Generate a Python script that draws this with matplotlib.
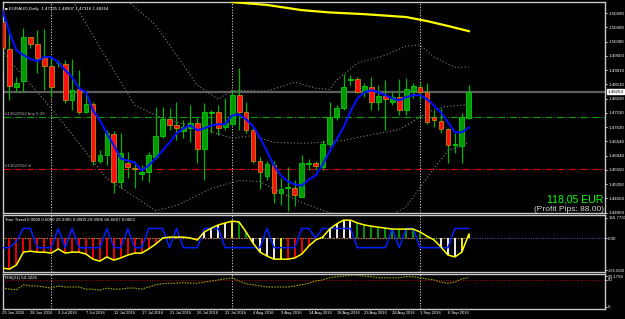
import numpy as np
import matplotlib
matplotlib.use("Agg")
import matplotlib.pyplot as plt
from matplotlib.transforms import blended_transform_factory

plt.rcParams['font.family'] = ['Liberation Sans', 'DejaVu Sans']

W, H = 625, 319

# EURAUD daily, 23 Jun 2016 .. 9 Sep 2016
opens = [1.5068, 1.4974, 1.4841, 1.4862, 1.5015, 1.4991, 1.4942, 1.4915, 1.4925, 1.4922,
         1.4796, 1.4835, 1.4754, 1.4782, 1.4587, 1.4608, 1.4678, 1.4511, 1.4580, 1.4560,
         1.4542, 1.4546, 1.4601, 1.4671, 1.4730, 1.4709, 1.4688, 1.4699, 1.4716, 1.4626,
         1.4753, 1.4754, 1.4702, 1.4713, 1.4814, 1.4754, 1.4692, 1.4584, 1.4535, 1.4570,
         1.4473, 1.4492, 1.4493, 1.4462, 1.4574, 1.4580, 1.4563, 1.4643, 1.4737, 1.4768,
         1.4868, 1.4869, 1.4824, 1.4841, 1.4789, 1.4810, 1.4789, 1.4807, 1.4761, 1.4828,
         1.4841, 1.4824, 1.4737, 1.4723, 1.4695, 1.4640, 1.4636, 1.47335]
highs = [1.5102, 1.5040, 1.4876, 1.5047, 1.5015, 1.5040, 1.5043, 1.4946, 1.4936, 1.4935,
         1.4939, 1.4901, 1.4831, 1.4789, 1.4622, 1.4692, 1.4688, 1.4681, 1.4615, 1.4587,
         1.4570, 1.4615, 1.4772, 1.4772, 1.4768, 1.4789, 1.4727, 1.4779, 1.4737, 1.4786,
         1.4761, 1.4779, 1.4803, 1.4831, 1.4908, 1.4789, 1.4699, 1.4598, 1.4587, 1.4587,
         1.4528, 1.4563, 1.4518, 1.4605, 1.4594, 1.4587, 1.4657, 1.4789, 1.4779, 1.4887,
         1.4883, 1.4876, 1.4855, 1.4876, 1.4848, 1.4866, 1.4824, 1.4869, 1.4873, 1.4855,
         1.4855, 1.4855, 1.4761, 1.4768, 1.4699, 1.4681, 1.4751, 1.48507]
lows = [1.4894, 1.4796, 1.4824, 1.4824, 1.4977, 1.4890, 1.4831, 1.4807, 1.4911, 1.4786,
        1.4761, 1.4747, 1.4751, 1.4570, 1.4577, 1.4570, 1.4476, 1.4493, 1.4528, 1.4493,
        1.4518, 1.4511, 1.4594, 1.4664, 1.4692, 1.4657, 1.4664, 1.4650, 1.4580, 1.4518,
        1.4681, 1.4674, 1.4692, 1.4709, 1.4692, 1.4681, 1.4577, 1.4490, 1.4518, 1.4438,
        1.4434, 1.4413, 1.4431, 1.4459, 1.4553, 1.4553, 1.4553, 1.4633, 1.4727, 1.4761,
        1.4848, 1.4821, 1.4807, 1.4761, 1.4761, 1.4692, 1.4779, 1.4744, 1.4744, 1.4803,
        1.4796, 1.4713, 1.4702, 1.4681, 1.4577, 1.4612, 1.4577, 1.47316]
closes = [1.4977, 1.4845, 1.4855, 1.5015, 1.4991, 1.4942, 1.4915, 1.4841, 1.4927, 1.4796,
          1.4831, 1.4754, 1.4782, 1.4584, 1.4608, 1.4681, 1.4511, 1.4612, 1.4563, 1.4556,
          1.4546, 1.4605, 1.4671, 1.4730, 1.4709, 1.4699, 1.4702, 1.4716, 1.4626, 1.4754,
          1.4755, 1.4699, 1.4716, 1.4814, 1.4754, 1.4692, 1.4584, 1.4546, 1.4574, 1.4473,
          1.4490, 1.4495, 1.4466, 1.4577, 1.4580, 1.4567, 1.4643, 1.4737, 1.4768, 1.4841,
          1.4870, 1.4824, 1.4845, 1.4789, 1.4810, 1.4800, 1.4807, 1.4761, 1.4835, 1.4845,
          1.4824, 1.4720, 1.4727, 1.4695, 1.4640, 1.4643, 1.4737, 1.48264]

# blue moving average on price
ma_blue = [1.5109, 1.5033, 1.4970, 1.4953, 1.4939, 1.4932, 1.4946, 1.4946, 1.4928, 1.4901,
           1.4876, 1.4838, 1.4824, 1.4761, 1.4727, 1.4681, 1.4640, 1.4594, 1.4587, 1.4580,
           1.4553, 1.4570, 1.4594, 1.4622, 1.4650, 1.4681, 1.4699, 1.4709, 1.4692, 1.4699,
           1.4709, 1.4713, 1.4713, 1.4744, 1.4747, 1.4730, 1.4706, 1.4667, 1.4619, 1.4570,
           1.4535, 1.4515, 1.4504, 1.4500, 1.4521, 1.4535, 1.4574, 1.4619, 1.4660, 1.4702,
           1.4758, 1.4803, 1.4824, 1.4831, 1.4824, 1.4814, 1.4803, 1.4796, 1.4807, 1.4814,
           1.4814, 1.4800, 1.4778, 1.4754, 1.4720, 1.4685, 1.4685, 1.4702]

# yellow long moving average (bar index, price)
ma_long_x = [32, 33, 38, 43, 47, 52, 55, 58, 61, 64, 67]
ma_long_y = [1.5148, 1.5137, 1.5127, 1.5109, 1.5101, 1.5095, 1.5090, 1.5085, 1.5071, 1.5054, 1.5036]

# bands (bar index, price)
band_up_x = [17, 18, 22, 28, 31, 33, 38, 42, 45, 47, 48, 51, 55, 58, 60, 62, 65, 67]
band_up_y = [1.5162, 1.5141, 1.5057, 1.4848, 1.4800, 1.4831, 1.4828, 1.4859, 1.4838, 1.4834,
             1.4866, 1.4925, 1.4953, 1.4984, 1.4988, 1.4946, 1.4911, 1.4911]
band_mid_x = [9, 10, 14, 19, 23, 30, 33, 36, 39, 43, 46, 49, 51, 54, 57, 59, 61, 63, 67]
band_mid_y = [1.5179, 1.5144, 1.4980, 1.4779, 1.4734, 1.4688, 1.4664, 1.4674, 1.4650, 1.4647,
              1.4650, 1.4657, 1.4667, 1.4681, 1.4695, 1.4723, 1.4754, 1.4772, 1.4782]
band_lo_x = [0, 1, 7, 15, 22, 25, 30, 34, 37, 40, 43, 47, 51, 55, 58, 62, 64, 67]
band_lo_y = [1.4970, 1.4935, 1.4768, 1.4525, 1.4413, 1.4431, 1.4490, 1.4518, 1.4514, 1.4476,
             1.4441, 1.4406, 1.4386, 1.4386, 1.4427, 1.4560, 1.4621, 1.4650]

bid = 1.48264
buy_price = 1.4738
sl_price = 1.4558

price_ticks = [1.50990, 1.50490, 1.50000, 1.49500, 1.49010, 1.48510, 1.48020, 1.47530,
               1.47030, 1.46540, 1.46040, 1.45550, 1.45050, 1.44560, 1.44060]

# True Trend indicator
tt_yellow = [-94, -97, -84, -44, -41, -44, -44, -47, -34, -47, -44, -44, -50, -66, -72, -59,
             -69, -62, -53, -47, -47, -34, -19, 0, 3, 3, 3, 0, -6, 19, 31, 41, 47, 53, 50, 19,
             -16, -44, -56, -66, -66, -66, -62, -50, -25, -6, 3, 28, 44, 56, 56, 47, 41, 37,
             34, 31, 28, 28, 28, 28, 19, 6, -6, -28, -53, -59, -44, 12]
tt_blue = [-30, -30, -10, 30, 30, -30, -30, -30, 30, -30, 30, -30, -30, -30, -30, 30, -30,
           -30, 30, -30, -30, 30, 30, 30, -30, 30, -30, -30, -30, 30, 30, 30, -30, -30, -30,
           -30, -30, -30, 30, -30, -30, -30, -30, 30, 30, 0, 30, 30, 30, 30, 30, -30, -30,
           -30, -30, -30, 30, -30, 30, 30, -30, -30, -30, -30, -30, 30, 30, 30]
tt_colors = (['r'] * 29 + ['w'] * 4 + ['y'] + ['g'] * 2 + ['w'] * 4 + ['y'] + ['r'] * 5
             + ['w'] * 5 + ['g'] * 12 + ['w'] * 3 + ['y'] * 2)

# RSI(21)
rsi = [35, 33, 32, 41, 39, 39, 37, 35, 39, 37, 37, 37, 33, 33, 31, 35, 33, 33, 35, 35, 33,
       37, 41, 43, 44, 44, 45, 44, 44, 46, 48, 50, 52, 54, 48, 43, 41, 39, 37, 37, 37, 37,
       39, 41, 44, 48, 50, 54, 56, 57, 59, 59, 57, 56, 54, 54, 54, 54, 56, 56, 54, 52, 50,
       46, 44, 46, 52, 54.3]

date_idx = list(range(0, 68, 4))
date_labels = ["23 Jun 2016", "28 Jun 2016", "3 Jul 2016", "7 Jul 2016", "12 Jul 2016",
               "17 Jul 2016", "21 Jul 2016", "26 Jul 2016", "31 Jul 2016", "4 Aug 2016",
               "9 Aug 2016", "14 Aug 2016", "18 Aug 2016", "23 Aug 2016", "28 Aug 2016",
               "1 Sep 2016", "6 Sep 2016"]
month_idx = [7, 33, 60]

n = len(opens)
x = np.arange(n)
o = np.array(opens); c = np.array(closes); hi = np.array(highs); lo = np.array(lows)

fig = plt.figure(figsize=(W / 100, H / 100), dpi=100, facecolor="black")


def frac(x0, y0, x1, y1):
    return [x0 / W, 1 - y1 / H, (x1 - x0) / W, (y1 - y0) / H]


xl = ((3 - 2.5) / 6.96, (605 - 2.5) / 6.96)
FS = 3.2     # tiny MT4 style text
GRID = "#c8c8c8"


def style(a):
    a.set_facecolor("black")
    a.set_xlim(*xl)
    for s in a.spines.values():
        s.set_color(GRID)
        s.set_linewidth(1.0)
    a.set_xticks([])
    a.yaxis.tick_right()
    a.tick_params(axis="y", colors="white", labelsize=FS, length=1.5, width=0.6, pad=0.8)
    for m in month_idx:
        a.axvline(m, color="#d0d0d0", lw=0.8, ls=(0, (1, 1.5)))


ax = fig.add_axes(frac(3, 2, 605, 213))
ax1 = fig.add_axes(frac(3, 215, 605, 272))
ax2 = fig.add_axes(frac(3, 274, 605, 309))
for a in (ax, ax1, ax2):
    style(a)

# ---- main price panel
ax.set_ylim(1.4405, 1.51372)
ax.set_yticks(price_ticks)
ax.set_yticklabels(["%.5f" % p for p in price_ticks])

ax.axhline(bid, color="#5e5e5e", lw=1.6)
ax.axhline(buy_price, color="#00a000", lw=0.8, ls="-.")
ax.axhline(sl_price, color="#e00000", lw=0.8, ls="-.")

dot = (0, (1, 2))
ax.plot(band_up_x, band_up_y, color="#808080", lw=0.8, ls=dot)
ax.plot(band_mid_x, band_mid_y, color="#808080", lw=0.8, ls=dot)
ax.plot(band_lo_x, band_lo_y, color="#808080", lw=0.8, ls=dot)

up = c >= o
ax.vlines(x, lo, hi, color="#00b400", lw=0.9, zorder=3)
body_b = np.minimum(o, c)
body_h = np.maximum(np.abs(c - o), 0.00012)
ax.bar(x[up], body_h[up], bottom=body_b[up], width=0.68, color="#009a00",
       edgecolor="#00d000", lw=0.6, zorder=4)
ax.bar(x[~up], body_h[~up], bottom=body_b[~up], width=0.68, color="#ff1010",
       edgecolor="#c8a000", lw=0.5, zorder=4)

ax.plot(x, ma_blue, color="#0010ff", lw=1.5, zorder=5)
ax.plot(ma_long_x, ma_long_y, color="#ffff00", lw=1.6, zorder=5)

tr = blended_transform_factory(ax.transAxes, ax.transData)
ax.text(1.004, bid, "1.48264", transform=tr, fontsize=FS, color="black", va="center",
        ha="left", bbox=dict(boxstyle="square,pad=0.2", fc="white", ec="white"), zorder=6)
ax.text(0.004, buy_price + 0.0004, "#13622552 buy 0.39", fontsize=FS, color="#b0b0b0",
        va="bottom", ha="left", transform=tr)
ax.text(0.004, sl_price + 0.0004, "#13622552 sl", fontsize=FS, color="#b0b0b0",
        va="bottom", ha="left", transform=tr)
ax.text(0.004, 0.977, "\u25a0 EURAUD,Daily  1.47335 1.48507 1.47316 1.48264",
        transform=ax.transAxes, fontsize=FS, color="white", va="top", ha="left")

fig.text(603 / W, 1 - 199 / H, "118,05 EUR", color="#00ff00", fontsize=7.6,
         ha="right", va="center")
fig.text(604 / W, 1 - 209.5 / H, "(Profit Pips: 88.00)", color="#d8d8d8", fontsize=6.0,
         ha="right", va="center")

# ---- True Trend panel
ax1.set_ylim(-106, 72)
ax1.set_yticks([64, 0, -100])
ax1.set_yticklabels(["155.7733", "0.00", "-158.4330"])
ax1.get_yticklabels()[-1].set_fontsize(FS - 0.5)
ax1.axhline(0, color="#6050c0", lw=0.7, ls=(0, (1, 1.5)))
ax1.plot([0, n - 1], [0, 0], color="#e0a000", lw=0.8, ls=(0, (1, 1.5)), zorder=2)
cmap = {"r": "#ff0000", "w": "#ffffff", "g": "#00a000", "y": "#ffff00"}
for i in range(n):
    ax1.vlines(i, 0, tt_yellow[i], color=cmap[tt_colors[i]], lw=1.3, zorder=2)
ax1.plot(x, tt_blue, color="#0020ff", lw=1.1, zorder=3)
ax1.plot(x, tt_yellow, color="#ffff00", lw=1.1, zorder=4)
ax1.text(0.004, 0.95, "True Trend 0.0000 0.0000 29.9905 0.0000 29.9905 66.6667 0.0000",
         transform=ax1.transAxes, fontsize=FS, color="white", va="top", ha="left")

# ---- RSI panel
ax2.set_ylim(-3.7, 61)
ax2.set_yticks([57, 50, 0])
ax2.set_yticklabels(["93.1796", "50", "0"])
ax2.axhline(50, color="#a00000", lw=0.7, ls=(0, (1, 1.5)))
ax2.plot(x, rsi, color="#a0a000", lw=0.8, ls=(0, (1.5, 1)))
ax2.text(0.004, 0.93, "RSI(21) 54.3226", transform=ax2.transAxes, fontsize=FS,
         color="white", va="top", ha="left")

# date labels
trd = blended_transform_factory(ax2.transData, fig.transFigure)
for i, lab in zip(date_idx, date_labels):
    fig.text(i, 1 - 313 / H, lab, transform=trd, fontsize=FS - 0.2, color="white",
             va="center", ha="left")

fig.savefig("out.png", dpi=100, facecolor="black")
